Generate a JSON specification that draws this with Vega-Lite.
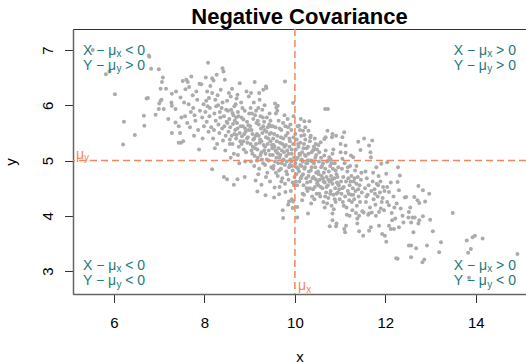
{
"$schema": "https://vega.github.io/schema/vega-lite/v6.json",
"width": 453, "height": 265,
"autosize": {"type": "none"},
"padding": {"left": 73, "top": 29, "right": 0, "bottom": 70},
"background": "white",
"config": {"font": "Liberation Sans", "view": {"stroke": "#333333", "strokeWidth": 1}},
"title": {"text": "Negative Covariance", "fontSize": 22, "fontWeight": "bold", "font": "Liberation Sans", "anchor": "middle", "offset": 3, "baseline": "alphabetic", "dy": 21, "color": "black"},
"datasets": {
"lab": [
{"x": 5.314, "y": 6.91, "a": "X − μ", "s": "x", "b": "< 0"},
{"x": 5.314, "y": 6.638, "a": "Y − μ", "s": "y", "b": "> 0"},
{"x": 13.514, "y": 6.91, "a": "X − μ", "s": "x", "b": "> 0"},
{"x": 13.514, "y": 6.638, "a": "Y − μ", "s": "y", "b": "> 0"},
{"x": 5.314, "y": 3.027, "a": "X − μ", "s": "x", "b": "< 0"},
{"x": 5.314, "y": 2.738, "a": "Y − μ", "s": "y", "b": "< 0"},
{"x": 13.514, "y": 3.027, "a": "X − μ", "s": "x", "b": "> 0"},
{"x": 13.514, "y": 2.738, "a": "Y − μ", "s": "y", "b": "< 0"}
],
"mu": [
{"x": 5.159, "y": 5.036, "s": "y"},
{"x": 10.07, "y": 2.656, "s": "x"}
],
"pts": [
{"x":5.53,"y":7.00},{"x":6.78,"y":6.88},{"x":5.82,"y":6.56},{"x":5.90,"y":6.61},{"x":6.82,"y":6.66},{"x":6.99,"y":6.65},{"x":7.08,"y":6.50},{"x":7.06,"y":6.42},{"x":6.02,"y":6.20},{"x":6.72,"y":6.12},{"x":6.75,"y":6.13},{"x":6.66,"y":5.81},{"x":6.22,"y":5.70},{"x":6.67,"y":5.63},{"x":6.46,"y":5.46},{"x":6.20,"y":5.29},{"x":6.92,"y":5.83},{"x":7.03,"y":6.30},{"x":7.03,"y":6.08},{"x":7.10,"y":5.93},{"x":7.28,"y":5.50},{"x":7.37,"y":6.25},{"x":6.77,"y":6.90},{"x":7.05,"y":6.10},{"x":7.00,"y":6.03},{"x":6.99,"y":5.93},{"x":7.28,"y":6.21},{"x":7.27,"y":6.05},{"x":7.28,"y":5.99},{"x":7.36,"y":5.93},{"x":7.36,"y":5.69},{"x":7.43,"y":5.62},{"x":7.49,"y":5.78},{"x":7.47,"y":6.14},{"x":7.43,"y":5.32},{"x":7.48,"y":5.32},{"x":7.46,"y":5.50},{"x":7.20,"y":5.75},{"x":7.15,"y":6.30},
{"x":7.52,"y":6.44},{"x":7.60,"y":6.46},{"x":7.58,"y":6.29},{"x":7.55,"y":6.05},{"x":7.71,"y":6.52},{"x":7.63,"y":6.42},{"x":7.89,"y":6.39},{"x":7.66,"y":6.33},{"x":7.93,"y":6.38},{"x":7.70,"y":5.88},{"x":7.75,"y":5.95},{"x":7.80,"y":5.72},{"x":7.84,"y":6.10},{"x":7.68,"y":5.60},{"x":7.77,"y":5.45},{"x":7.95,"y":5.78},{"x":7.57,"y":5.80},{"x":7.86,"y":5.55},{"x":7.98,"y":6.02},{"x":7.62,"y":5.68},{"x":7.74,"y":6.18},{"x":7.90,"y":5.90},{"x":7.82,"y":6.25},{"x":7.96,"y":5.40},{"x":7.53,"y":5.35},{"x":7.88,"y":5.20},{"x":7.65,"y":6.02},{"x":7.78,"y":5.82},{"x":7.99,"y":5.62},
{"x":8.08,"y":6.77},{"x":8.40,"y":6.67},{"x":8.42,"y":6.61},{"x":8.17,"y":6.49},{"x":8.20,"y":6.45},{"x":8.27,"y":6.55},{"x":8.45,"y":6.46},{"x":8.06,"y":6.25},{"x":8.17,"y":6.22},{"x":8.10,"y":6.13},{"x":8.40,"y":6.05},{"x":8.03,"y":6.50},{"x":8.12,"y":5.95},{"x":8.22,"y":5.85},{"x":8.30,"y":6.00},{"x":8.35,"y":5.78},{"x":8.48,"y":5.92},{"x":8.05,"y":5.70},{"x":8.15,"y":5.60},{"x":8.25,"y":5.72},{"x":8.33,"y":5.50},{"x":8.44,"y":5.62},{"x":8.02,"y":5.88},{"x":8.19,"y":5.40},{"x":8.28,"y":5.30},{"x":8.38,"y":5.95},{"x":8.47,"y":5.45},{"x":8.09,"y":5.52},{"x":8.13,"y":6.35},{"x":8.24,"y":6.10},{"x":8.31,"y":5.65},{"x":8.36,"y":6.28},{"x":8.43,"y":5.80},{"x":8.46,"y":5.18},{"x":8.17,"y":4.84},{"x":8.07,"y":5.98},{"x":8.21,"y":5.55},{"x":8.34,"y":5.88},{"x":8.41,"y":5.36},{"x":8.49,"y":5.70},{"x":8.11,"y":5.80},{"x":8.26,"y":5.98},{"x":8.39,"y":5.58},{"x":8.29,"y":6.18},{"x":8.04,"y":6.08},{"x":8.23,"y":5.22},
{"x":8.73,"y":6.19},{"x":8.71,"y":6.12},{"x":8.58,"y":6.16},{"x":8.50,"y":6.08},{"x":8.98,"y":6.16},{"x":8.52,"y":5.90},{"x":8.55,"y":5.75},{"x":8.57,"y":5.60},{"x":8.60,"y":5.45},{"x":8.62,"y":5.30},{"x":8.64,"y":5.82},{"x":8.66,"y":5.98},{"x":8.68,"y":5.55},{"x":8.70,"y":5.40},{"x":8.72,"y":5.68},{"x":8.74,"y":5.88},{"x":8.76,"y":5.25},{"x":8.78,"y":5.50},{"x":8.80,"y":5.62},{"x":8.82,"y":5.78},{"x":8.84,"y":5.95},{"x":8.86,"y":5.35},{"x":8.88,"y":5.48},{"x":8.90,"y":5.58},{"x":8.92,"y":5.15},{"x":8.94,"y":5.70},{"x":8.96,"y":5.42},{"x":8.99,"y":5.85},{"x":8.53,"y":5.52},{"x":8.56,"y":5.38},{"x":8.59,"y":5.92},{"x":8.61,"y":6.30},{"x":8.63,"y":5.66},{"x":8.65,"y":5.12},{"x":8.67,"y":5.72},{"x":8.69,"y":6.02},{"x":8.71,"y":5.46},{"x":8.73,"y":5.58},{"x":8.75,"y":5.80},{"x":8.77,"y":4.95},{"x":8.79,"y":5.35},{"x":8.81,"y":6.05},{"x":8.83,"y":5.44},{"x":8.85,"y":5.62},{"x":8.87,"y":5.20},{"x":8.89,"y":5.90},{"x":8.91,"y":5.52},{"x":8.93,"y":6.25},{"x":8.95,"y":5.32},{"x":8.97,"y":5.64},{"x":8.51,"y":5.68},{"x":8.54,"y":6.22},{"x":8.58,"y":5.05},{"x":8.66,"y":5.48},{"x":8.74,"y":5.10},{"x":8.82,"y":5.30},{"x":8.90,"y":4.98},{"x":8.43,"y":4.70},{"x":8.50,"y":4.66},{"x":8.65,"y":4.56},{"x":8.73,"y":4.66},{"x":8.89,"y":4.70},{"x":8.62,"y":5.86},{"x":8.78,"y":6.40},{"x":8.86,"y":5.74},{"x":8.94,"y":5.40},{"x":8.98,"y":5.55},{"x":8.56,"y":5.30},{"x":8.70,"y":5.78},
{"x":9.11,"y":6.42},{"x":9.37,"y":6.31},{"x":9.21,"y":6.22},{"x":9.36,"y":6.34},{"x":9.30,"y":6.28},{"x":9.13,"y":4.64},{"x":9.17,"y":4.44},{"x":9.35,"y":4.37},{"x":9.26,"y":4.56},{"x":9.02,"y":5.30},{"x":9.04,"y":5.55},{"x":9.06,"y":5.12},{"x":9.08,"y":5.75},{"x":9.10,"y":5.40},{"x":9.12,"y":5.22},{"x":9.14,"y":5.90},{"x":9.16,"y":5.48},{"x":9.18,"y":5.05},{"x":9.20,"y":5.65},{"x":9.22,"y":5.32},{"x":9.24,"y":5.80},{"x":9.26,"y":5.15},{"x":9.28,"y":5.50},{"x":9.30,"y":4.95},{"x":9.32,"y":5.70},{"x":9.34,"y":5.25},{"x":9.36,"y":5.42},{"x":9.38,"y":5.02},{"x":9.40,"y":5.60},{"x":9.42,"y":5.18},{"x":9.44,"y":5.85},{"x":9.46,"y":5.35},{"x":9.48,"y":4.88},{"x":9.01,"y":5.62},{"x":9.03,"y":4.98},{"x":9.05,"y":5.85},{"x":9.07,"y":5.25},{"x":9.09,"y":6.05},{"x":9.11,"y":5.08},{"x":9.13,"y":5.45},{"x":9.15,"y":5.68},{"x":9.17,"y":5.20},{"x":9.19,"y":5.95},{"x":9.21,"y":4.85},{"x":9.23,"y":5.38},{"x":9.25,"y":5.58},{"x":9.27,"y":5.02},{"x":9.29,"y":5.78},{"x":9.31,"y":5.28},{"x":9.33,"y":6.00},{"x":9.35,"y":5.12},{"x":9.37,"y":5.52},{"x":9.39,"y":4.78},{"x":9.41,"y":5.40},{"x":9.43,"y":5.65},{"x":9.45,"y":5.10},{"x":9.47,"y":5.50},{"x":9.49,"y":5.28},{"x":9.02,"y":5.95},{"x":9.06,"y":5.48},{"x":9.10,"y":4.90},{"x":9.14,"y":5.30},{"x":9.18,"y":5.72},{"x":9.22,"y":6.10},{"x":9.26,"y":5.35},{"x":9.30,"y":5.62},{"x":9.34,"y":4.92},{"x":9.38,"y":5.78},{"x":9.42,"y":5.00},{"x":9.46,"y":5.72},{"x":9.50,"y":5.22},{"x":9.04,"y":5.18},{"x":9.08,"y":5.38},{"x":9.12,"y":5.82},{"x":9.16,"y":5.00},{"x":9.20,"y":5.45},{"x":9.24,"y":5.10},{"x":9.28,"y":5.92},{"x":9.32,"y":5.18},{"x":9.36,"y":4.70},{"x":9.40,"y":5.30},{"x":9.44,"y":5.48},{"x":9.48,"y":5.62},{"x":9.03,"y":6.22},{"x":9.19,"y":4.75},{"x":9.33,"y":5.55},{"x":9.45,"y":4.62},
{"x":9.62,"y":5.99},{"x":9.59,"y":5.96},{"x":9.96,"y":6.04},{"x":9.78,"y":6.43},{"x":9.56,"y":6.03},{"x":9.73,"y":4.10},{"x":9.74,"y":3.96},{"x":9.54,"y":4.33},{"x":9.65,"y":4.39},{"x":9.55,"y":4.51},{"x":9.79,"y":4.43},{"x":9.87,"y":4.26},{"x":9.85,"y":4.20},{"x":9.96,"y":4.26},{"x":9.95,"y":4.14},{"x":9.93,"y":4.30},{"x":9.51,"y":5.10},{"x":9.52,"y":5.40},{"x":9.53,"y":4.90},{"x":9.55,"y":5.25},{"x":9.57,"y":5.60},{"x":9.58,"y":4.78},{"x":9.60,"y":5.15},{"x":9.61,"y":5.45},{"x":9.63,"y":4.95},{"x":9.64,"y":5.72},{"x":9.66,"y":5.05},{"x":9.67,"y":5.32},{"x":9.69,"y":4.85},{"x":9.70,"y":5.55},{"x":9.71,"y":5.18},{"x":9.72,"y":4.68},{"x":9.74,"y":5.40},{"x":9.75,"y":5.02},{"x":9.77,"y":5.82},{"x":9.78,"y":4.92},{"x":9.80,"y":5.28},{"x":9.81,"y":5.08},{"x":9.83,"y":4.75},{"x":9.84,"y":5.50},{"x":9.86,"y":5.12},{"x":9.87,"y":4.88},{"x":9.89,"y":5.35},{"x":9.90,"y":5.65},{"x":9.92,"y":4.98},{"x":9.93,"y":5.20},{"x":9.95,"y":4.82},{"x":9.97,"y":5.42},{"x":9.98,"y":5.05},{"x":9.99,"y":4.70},{"x":9.51,"y":5.62},{"x":9.53,"y":5.28},{"x":9.56,"y":4.98},{"x":9.58,"y":5.85},{"x":9.60,"y":5.35},{"x":9.62,"y":4.72},{"x":9.64,"y":5.22},{"x":9.66,"y":5.58},{"x":9.68,"y":5.10},{"x":9.70,"y":4.62},{"x":9.72,"y":5.30},{"x":9.74,"y":5.68},{"x":9.76,"y":5.15},{"x":9.78,"y":4.58},{"x":9.80,"y":5.45},{"x":9.82,"y":4.98},{"x":9.84,"y":5.75},{"x":9.86,"y":4.65},{"x":9.88,"y":5.25},{"x":9.90,"y":5.02},{"x":9.92,"y":5.55},{"x":9.94,"y":4.90},{"x":9.96,"y":5.30},{"x":9.98,"y":4.55},{"x":9.52,"y":4.85},{"x":9.57,"y":5.18},{"x":9.61,"y":5.90},{"x":9.65,"y":4.82},{"x":9.69,"y":5.42},{"x":9.73,"y":5.00},{"x":9.77,"y":5.25},{"x":9.81,"y":4.80},{"x":9.85,"y":5.60},{"x":9.89,"y":4.92},{"x":9.93,"y":5.12},{"x":9.97,"y":5.80},{"x":9.54,"y":5.48},{"x":9.63,"y":5.12},{"x":9.71,"y":4.95},{"x":9.79,"y":5.62},{"x":9.88,"y":5.40},{"x":9.95,"y":4.60},{"x":9.66,"y":4.52},{"x":9.83,"y":5.18},{"x":9.91,"y":4.45},{"x":9.59,"y":5.05},
{"x":10.05,"y":3.97},{"x":10.05,"y":4.16},{"x":10.29,"y":4.04},{"x":10.13,"y":5.75},{"x":10.21,"y":5.71},{"x":10.32,"y":5.71},{"x":10.09,"y":5.63},{"x":10.23,"y":5.60},{"x":10.18,"y":5.54},{"x":10.21,"y":5.46},{"x":10.35,"y":5.45},{"x":10.30,"y":5.54},{"x":10.46,"y":5.30},{"x":10.43,"y":5.21},{"x":10.01,"y":4.95},{"x":10.02,"y":5.20},{"x":10.03,"y":4.75},{"x":10.04,"y":5.38},{"x":10.06,"y":5.05},{"x":10.07,"y":4.85},{"x":10.08,"y":5.25},{"x":10.10,"y":4.62},{"x":10.11,"y":5.10},{"x":10.12,"y":4.92},{"x":10.14,"y":5.45},{"x":10.15,"y":4.72},{"x":10.16,"y":5.15},{"x":10.17,"y":4.98},{"x":10.19,"y":4.55},{"x":10.20,"y":5.30},{"x":10.22,"y":4.88},{"x":10.24,"y":5.08},{"x":10.25,"y":4.68},{"x":10.26,"y":5.22},{"x":10.27,"y":4.95},{"x":10.28,"y":4.45},{"x":10.30,"y":5.12},{"x":10.31,"y":4.80},{"x":10.33,"y":5.35},{"x":10.34,"y":4.62},{"x":10.36,"y":5.00},{"x":10.37,"y":4.88},{"x":10.38,"y":4.35},{"x":10.40,"y":5.18},{"x":10.41,"y":4.70},{"x":10.42,"y":4.95},{"x":10.44,"y":4.52},{"x":10.45,"y":5.05},{"x":10.47,"y":4.78},{"x":10.48,"y":4.40},{"x":10.49,"y":5.20},{"x":10.01,"y":5.48},{"x":10.03,"y":5.02},{"x":10.05,"y":4.55},{"x":10.07,"y":5.30},{"x":10.09,"y":4.80},{"x":10.11,"y":5.55},{"x":10.13,"y":4.68},{"x":10.15,"y":5.02},{"x":10.17,"y":4.40},{"x":10.19,"y":5.22},{"x":10.21,"y":4.85},{"x":10.23,"y":5.38},{"x":10.25,"y":4.95},{"x":10.27,"y":4.60},{"x":10.29,"y":5.25},{"x":10.31,"y":5.00},{"x":10.33,"y":4.50},{"x":10.35,"y":4.82},{"x":10.37,"y":5.15},{"x":10.39,"y":4.68},{"x":10.41,"y":4.98},{"x":10.43,"y":4.30},{"x":10.45,"y":4.88},{"x":10.47,"y":5.10},{"x":10.49,"y":4.58},{"x":10.02,"y":4.62},{"x":10.06,"y":5.62},{"x":10.10,"y":5.12},{"x":10.14,"y":4.90},{"x":10.18,"y":4.75},{"x":10.22,"y":5.10},{"x":10.26,"y":4.50},{"x":10.30,"y":4.72},{"x":10.34,"y":5.42},{"x":10.38,"y":4.98},{"x":10.42,"y":5.25},{"x":10.46,"y":4.66},{"x":10.04,"y":4.88},{"x":10.12,"y":5.32},{"x":10.20,"y":4.38},{"x":10.28,"y":5.00},{"x":10.36,"y":4.22},{"x":10.44,"y":5.40},{"x":10.16,"y":4.28},{"x":10.40,"y":4.48},
{"x":10.67,"y":5.93},{"x":10.73,"y":5.93},{"x":10.72,"y":5.54},{"x":10.83,"y":5.48},{"x":10.82,"y":5.42},{"x":10.91,"y":5.45},{"x":10.68,"y":5.42},{"x":10.65,"y":5.39},{"x":10.52,"y":5.28},{"x":10.57,"y":5.33},{"x":10.54,"y":5.15},{"x":10.68,"y":5.18},{"x":10.65,"y":5.09},{"x":10.83,"y":5.12},{"x":10.76,"y":5.06},{"x":10.91,"y":3.81},{"x":10.92,"y":3.86},{"x":10.77,"y":3.81},{"x":10.83,"y":3.92},{"x":10.83,"y":4.04},{"x":10.51,"y":4.80},{"x":10.52,"y":4.55},{"x":10.53,"y":4.98},{"x":10.55,"y":4.65},{"x":10.56,"y":4.35},{"x":10.58,"y":4.88},{"x":10.59,"y":4.72},{"x":10.61,"y":4.50},{"x":10.62,"y":4.95},{"x":10.63,"y":4.25},{"x":10.64,"y":4.78},{"x":10.66,"y":4.60},{"x":10.67,"y":4.85},{"x":10.69,"y":4.42},{"x":10.70,"y":4.70},{"x":10.71,"y":4.98},{"x":10.73,"y":4.55},{"x":10.74,"y":4.32},{"x":10.75,"y":4.80},{"x":10.77,"y":4.62},{"x":10.78,"y":4.90},{"x":10.79,"y":4.45},{"x":10.80,"y":4.72},{"x":10.81,"y":4.18},{"x":10.83,"y":4.58},{"x":10.84,"y":4.85},{"x":10.85,"y":4.38},{"x":10.87,"y":4.68},{"x":10.88,"y":4.95},{"x":10.89,"y":4.50},{"x":10.90,"y":4.25},{"x":10.92,"y":4.75},{"x":10.93,"y":4.60},{"x":10.95,"y":4.42},{"x":10.96,"y":4.88},{"x":10.97,"y":4.55},{"x":10.99,"y":4.30},{"x":10.50,"y":4.62},{"x":10.54,"y":4.40},{"x":10.58,"y":5.05},{"x":10.62,"y":4.68},{"x":10.66,"y":4.15},{"x":10.70,"y":4.52},{"x":10.74,"y":5.00},{"x":10.78,"y":4.40},{"x":10.82,"y":4.65},{"x":10.86,"y":4.12},{"x":10.90,"y":4.82},{"x":10.94,"y":4.70},{"x":10.98,"y":4.48},{"x":10.53,"y":4.75},{"x":10.60,"y":4.90},{"x":10.67,"y":4.35},{"x":10.74,"y":4.65},{"x":10.81,"y":4.95},{"x":10.88,"y":4.30},{"x":10.95,"y":4.58},{"x":10.57,"y":4.52},{"x":10.71,"y":4.22},{"x":10.85,"y":5.20},{"x":10.64,"y":4.62},{"x":10.79,"y":5.02},{"x":10.92,"y":4.40},
{"x":11.11,"y":3.70},{"x":11.09,"y":3.76},{"x":11.13,"y":3.82},{"x":11.38,"y":3.86},{"x":11.38,"y":3.95},{"x":11.42,"y":4.00},{"x":11.09,"y":5.51},{"x":11.05,"y":5.42},{"x":11.01,"y":5.30},{"x":11.12,"y":5.27},{"x":11.40,"y":5.34},{"x":11.01,"y":5.15},{"x":11.12,"y":5.14},{"x":11.24,"y":5.09},{"x":11.05,"y":5.03},{"x":11.45,"y":5.19},{"x":11.29,"y":5.06},{"x":11.42,"y":3.72},{"x":11.02,"y":4.62},{"x":11.03,"y":4.40},{"x":11.04,"y":4.85},{"x":11.06,"y":4.25},{"x":11.07,"y":4.70},{"x":11.08,"y":4.52},{"x":11.10,"y":4.95},{"x":11.11,"y":4.35},{"x":11.13,"y":4.62},{"x":11.14,"y":4.15},{"x":11.16,"y":4.80},{"x":11.17,"y":4.45},{"x":11.18,"y":4.68},{"x":11.20,"y":4.28},{"x":11.21,"y":4.55},{"x":11.22,"y":4.90},{"x":11.24,"y":4.38},{"x":11.25,"y":4.72},{"x":11.27,"y":4.10},{"x":11.28,"y":4.50},{"x":11.30,"y":4.62},{"x":11.31,"y":4.30},{"x":11.33,"y":4.82},{"x":11.34,"y":4.45},{"x":11.36,"y":4.58},{"x":11.37,"y":4.18},{"x":11.39,"y":4.70},{"x":11.41,"y":4.35},{"x":11.43,"y":4.55},{"x":11.44,"y":4.25},{"x":11.46,"y":4.65},{"x":11.48,"y":4.42},{"x":11.49,"y":4.08},{"x":11.05,"y":4.50},{"x":11.15,"y":4.02},{"x":11.19,"y":4.40},{"x":11.23,"y":4.62},{"x":11.26,"y":4.25},{"x":11.32,"y":4.68},{"x":11.35,"y":4.05},{"x":11.40,"y":4.48},{"x":11.47,"y":4.78},{"x":11.08,"y":4.18},{"x":11.17,"y":4.88},{"x":11.29,"y":4.38},{"x":11.36,"y":4.90},{"x":11.21,"y":4.00},
{"x":11.51,"y":3.64},{"x":11.64,"y":3.73},{"x":11.68,"y":3.79},{"x":11.52,"y":4.06},{"x":11.64,"y":4.04},{"x":11.70,"y":4.06},{"x":11.86,"y":3.82},{"x":11.86,"y":4.07},{"x":11.90,"y":4.13},{"x":11.93,"y":3.67},{"x":11.99,"y":3.64},{"x":11.53,"y":5.40},{"x":11.64,"y":5.27},{"x":11.71,"y":5.36},{"x":11.67,"y":5.15},{"x":11.68,"y":5.06},{"x":11.80,"y":4.88},{"x":11.91,"y":4.94},{"x":11.55,"y":4.50},{"x":11.57,"y":4.25},{"x":11.59,"y":4.68},{"x":11.61,"y":4.38},{"x":11.63,"y":4.55},{"x":11.66,"y":4.15},{"x":11.69,"y":4.45},{"x":11.72,"y":4.62},{"x":11.74,"y":4.30},{"x":11.76,"y":4.48},{"x":11.78,"y":4.20},{"x":11.81,"y":4.58},{"x":11.83,"y":4.35},{"x":11.85,"y":4.72},{"x":11.88,"y":4.42},{"x":11.92,"y":4.25},{"x":11.95,"y":4.52},{"x":11.97,"y":4.10},{"x":11.56,"y":4.80},{"x":11.62,"y":4.02},{"x":11.73,"y":4.78},{"x":11.79,"y":4.00},{"x":11.84,"y":4.55},{"x":11.89,"y":4.62},{"x":11.94,"y":4.32},{"x":11.98,"y":4.45},{"x":11.58,"y":4.35},{"x":11.77,"y":4.40},
{"x":12.02,"y":3.53},{"x":12.27,"y":3.22},{"x":12.24,"y":3.23},{"x":12.04,"y":4.97},{"x":12.28,"y":4.88},{"x":12.32,"y":4.73},{"x":12.02,"y":4.76},{"x":12.08,"y":3.82},{"x":12.12,"y":3.76},{"x":12.19,"y":3.76},{"x":12.30,"y":3.79},{"x":12.34,"y":4.13},{"x":12.43,"y":4.33},{"x":12.46,"y":4.34},{"x":12.30,"y":4.46},{"x":12.27,"y":4.61},{"x":12.04,"y":4.52},{"x":12.08,"y":4.43},{"x":12.08,"y":4.19},{"x":12.04,"y":4.25},{"x":12.14,"y":4.05},{"x":12.18,"y":4.35},{"x":12.22,"y":3.95},{"x":12.38,"y":4.00},{"x":12.12,"y":4.60},{"x":12.20,"y":4.15},{"x":12.40,"y":3.88},{"x":12.25,"y":4.22},{"x":12.15,"y":3.92},
{"x":12.52,"y":3.46},{"x":12.51,"y":3.97},{"x":12.52,"y":4.07},{"x":12.73,"y":4.54},{"x":12.83,"y":4.46},{"x":12.97,"y":4.40},{"x":12.64,"y":4.34},{"x":12.71,"y":4.28},{"x":12.75,"y":4.23},{"x":12.88,"y":4.26},{"x":12.60,"y":3.97},{"x":12.65,"y":3.97},{"x":12.83,"y":3.99},{"x":12.75,"y":3.92},{"x":12.73,"y":3.86},{"x":12.57,"y":3.88},{"x":12.99,"y":3.93},{"x":13.49,"y":4.05},{"x":13.05,"y":3.72},{"x":13.23,"y":3.52},{"x":13.19,"y":3.34},{"x":12.92,"y":3.46},{"x":12.68,"y":3.41},{"x":12.57,"y":3.46},{"x":12.86,"y":3.21},{"x":12.82,"y":3.16},{"x":12.57,"y":3.25},{"x":13.80,"y":3.55},{"x":13.93,"y":3.61},{"x":13.98,"y":3.64},{"x":14.15,"y":3.59},{"x":13.89,"y":3.40},{"x":13.83,"y":3.33},{"x":14.92,"y":3.31},{"x":13.85,"y":2.88},{"x":12.55,"y":4.15},{"x":12.62,"y":3.70}
]
},
"layer": [
{
"data": {"name": "pts"},
"mark": {"type": "circle", "size": 16, "color": "#ababab", "opacity": 1},
"encoding": {
"x": {"field": "x", "type": "quantitative", "scale": {"domain": [5.093, 15.11], "nice": false, "zero": false},
"axis": {"values": [6, 8, 10, 12, 14], "format": "d", "title": "x", "grid": false, "tickSize": 8.5, "tickColor": "#333333", "domainColor": "#666666", "domainWidth": 1.5, "labelFontSize": 15, "labelColor": "black", "labelFont": "Liberation Sans", "labelBaseline": "alphabetic", "labelPadding": 25, "titleFontSize": 15, "titleFontWeight": "normal", "titleFont": "Liberation Sans", "titleColor": "black", "titleBaseline": "alphabetic", "titleY": 67}},
"y": {"field": "y", "type": "quantitative", "scale": {"domain": [2.584, 7.38], "nice": false, "zero": false},
"axis": {"values": [3, 4, 5, 6, 7], "format": "d", "title": "y", "grid": false, "tickSize": 8.5, "tickColor": "#333333", "domainColor": "#666666", "domainWidth": 1.5, "labelFontSize": 15, "labelColor": "black", "labelFont": "Liberation Sans", "labelAngle": -90, "labelAlign": "center", "labelBaseline": "alphabetic", "labelPadding": 12, "titleFontSize": 15, "titleFontWeight": "normal", "titleFont": "Liberation Sans", "titleColor": "black", "titleAngle": -90, "titleBaseline": "alphabetic", "titleX": -58}}
}
},
{
"data": {"values": [{"x": 10}]},
"mark": {"type": "rule", "color": "#f2865e", "strokeWidth": 1.5, "strokeDash": [7, 4]},
"encoding": {"x": {"field": "x", "type": "quantitative"}}
},
{
"data": {"values": [{"y": 5}]},
"mark": {"type": "rule", "color": "#f2865e", "strokeWidth": 1.5, "strokeDash": [7, 4]},
"encoding": {"y": {"field": "y", "type": "quantitative"}}
},
{
"data": {"name": "lab"},
"mark": {"type": "text", "align": "left", "baseline": "alphabetic", "fontSize": 14, "color": "#217a7c", "font": "Liberation Sans"},
"encoding": {
"x": {"field": "x", "type": "quantitative"},
"y": {"field": "y", "type": "quantitative"},
"text": {"field": "a"}
}
},
{
"data": {"name": "lab"},
"mark": {"type": "text", "align": "left", "baseline": "alphabetic", "fontSize": 10, "dx": 33.4, "dy": 2.5, "color": "#217a7c", "font": "Liberation Sans"},
"encoding": {
"x": {"field": "x", "type": "quantitative"},
"y": {"field": "y", "type": "quantitative"},
"text": {"field": "s"}
}
},
{
"data": {"name": "lab"},
"mark": {"type": "text", "align": "left", "baseline": "alphabetic", "fontSize": 14, "dx": 42.3, "color": "#217a7c", "font": "Liberation Sans"},
"encoding": {
"x": {"field": "x", "type": "quantitative"},
"y": {"field": "y", "type": "quantitative"},
"text": {"field": "b"}
}
},
{
"data": {"name": "mu"},
"mark": {"type": "text", "align": "left", "baseline": "alphabetic", "fontSize": 14, "color": "#f2865e", "font": "Liberation Sans"},
"encoding": {
"x": {"field": "x", "type": "quantitative"},
"y": {"field": "y", "type": "quantitative"},
"text": {"value": "μ"}
}
},
{
"data": {"name": "mu"},
"mark": {"type": "text", "align": "left", "baseline": "alphabetic", "fontSize": 10, "dx": 8.1, "dy": 2.5, "color": "#f2865e", "font": "Liberation Sans"},
"encoding": {
"x": {"field": "x", "type": "quantitative"},
"y": {"field": "y", "type": "quantitative"},
"text": {"field": "s"}
}
}
]
}
